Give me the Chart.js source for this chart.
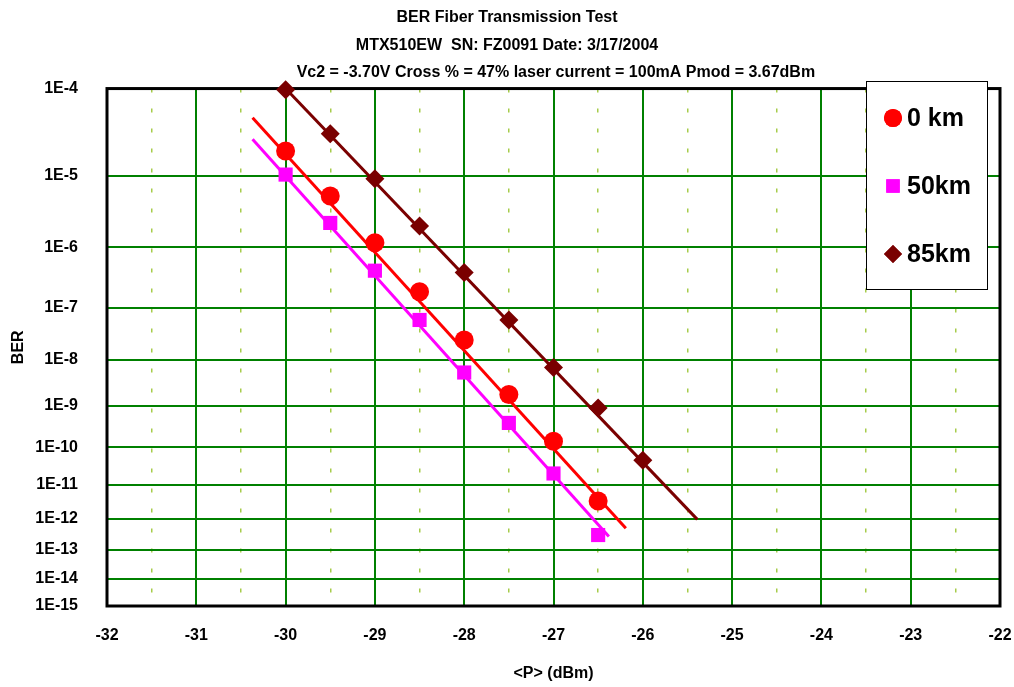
<!DOCTYPE html>
<html><head><meta charset="utf-8">
<script src="https://cdn.jsdelivr.net/npm/chart.js@4/dist/chart.umd.min.js"></script>
<style>html,body{margin:0;padding:0;background:#fff}#wrap{width:1014px;height:687px;position:relative}</style>
</head><body><div id="wrap"><canvas id="c"></canvas></div>
<script>
// ---- data ----
const titleLines = [
  'BER Fiber Transmission Test',
  'MTX510EW  SN: FZ0091 Date: 3/17/2004',
  '                      Vc2 = -3.70V Cross % = 47% laser current = 100mA Pmod = 3.67dBm'
];
const seriesLabels = ['0 km', '50km', '85km'];
const power = [-30, -29.5, -29, -28.5, -28, -27.5, -27, -26.5];
const power85 = [-30, -29.5, -29, -28.5, -28, -27.5, -27, -26.5, -26];
const ber0km = [2.03e-5, 5.44e-6, 1.17e-6, 1.90e-7, 2.50e-8, 1.83e-9, 1.42e-10, 3.39e-12];
const ber50km = [1.04e-5, 2.30e-6, 4.27e-7, 5.97e-8, 5.48e-9, 4.01e-10, 2.03e-11, 3.07e-13];
const ber85km = [9.7e-5, 3.25e-5, 9.23e-6, 2.08e-6, 3.98e-7, 5.97e-8, 6.98e-9, 9.0e-10, 4.6e-11];
const fit0kmP = [-30.37, -26.19];
const fit0kmBer = [4.9e-5, 5.0e-13];
const fit50kmP = [-30.37, -26.38];
const fit50kmBer = [2.8e-5, 2.75e-13];
const fit85kmP = [-30.0, -25.39];
const fit85kmBer = [1.0e-4, 9.5e-13];
const yTickExponents = [4, 5, 6, 7, 8, 9, 10, 11, 12, 13, 14, 15];
const xMin = -32, xMax = -22;
const xTitle = '<P> (dBm)';
const yTitle = 'BER';

// BER scale transform: log10(-log10(BER))
const berT = b => Math.log10(-Math.log10(b));
const pts = (xs, ys) => xs.map((x, i) => ({x: x, y: berT(ys[i])}));

const colors = ['#ff0000', '#ff00ff', '#7a0000'];
const styles = ['circle', 'rect', 'rectRot'];
const radii = [9.5, 10, 9.5];
const FONT = '"Liberation Sans", Arial, sans-serif';

function markerDs(i, xs, ys) {
  return {label: seriesLabels[i], data: pts(xs, ys), showLine: false,
    pointStyle: styles[i], pointRadius: radii[i], pointBackgroundColor: colors[i],
    pointBorderColor: colors[i], pointBorderWidth: 0, order: 0, clip: false};
}
function fitDs(i, xs, ys) {
  return {label: seriesLabels[i] + ' fit', data: pts(xs, ys), showLine: true,
    borderColor: colors[i], borderWidth: 3, pointRadius: 0, order: 1, clip: false};
}

const framePlugin = {
  id: 'frame',
  beforeDatasetsDraw(chart) {
    const {ctx, chartArea: a} = chart;
    ctx.save();
    ctx.strokeStyle = '#000';
    ctx.lineWidth = 3;
    ctx.strokeRect(a.left, a.top, a.right - a.left, a.bottom - a.top);
    ctx.restore();
  }
};

const legendPlugin = {
  id: 'boxLegend',
  afterDraw(chart) {
    const ctx = chart.ctx;
    const bx = 866, by = 81, bw = 121, bh = 208;
    ctx.save();
    ctx.fillStyle = '#fff';
    ctx.fillRect(bx, by, bw, bh);
    ctx.strokeStyle = '#000';
    ctx.lineWidth = 1;
    ctx.strokeRect(bx + 0.5, by + 0.5, bw, bh);
    const rows = [118, 186, 254];
    [0, 1, 2].forEach(i => {
      const ds = chart.data.datasets[i];
      ctx.fillStyle = ds.pointBackgroundColor;
      ctx.beginPath();
      Chart.helpers.drawPoint(ctx, {pointStyle: ds.pointStyle, radius: ds.pointRadius * 0.95, borderWidth: 0, rotation: 0}, 893, rows[i]);
      ctx.fill();
      ctx.fillStyle = '#000';
      ctx.font = 'bold 25px ' + FONT;
      ctx.textAlign = 'left';
      ctx.textBaseline = 'middle';
      ctx.fillText(ds.label, 907, rows[i] + 1);
    });
    ctx.restore();
  }
};

new Chart(document.getElementById('c'), {
  type: 'scatter',
  data: {
    datasets: [
      markerDs(0, power, ber0km),
      markerDs(1, power, ber50km),
      markerDs(2, power85, ber85km),
      fitDs(0, fit0kmP, fit0kmBer),
      fitDs(1, fit50kmP, fit50kmBer),
      fitDs(2, fit85kmP, fit85kmBer)
    ]
  },
  options: {
    responsive: true, maintainAspectRatio: false, animation: false,
    layout: {padding: {left: 0, right: 0, top: 0, bottom: 0}},
    plugins: {
      legend: {display: false},
      tooltip: {enabled: false},
      title: {display: true, text: titleLines, color: '#000',
        font: {family: FONT, size: 16, weight: 'bold', lineHeight: 1.72},
        padding: {top: 4, bottom: 2}}
    },
    scales: {
      x: {
        type: 'linear', min: xMin, max: xMax,
        afterFit: s => { s.height = 81; s.paddingLeft = 0; s.paddingRight = 14; },
        ticks: {stepSize: 0.5, autoSkip: false, maxRotation: 0, color: '#000', padding: 20,
          font: {family: FONT, size: 16, weight: 'bold'},
          callback: v => Number.isInteger(v) ? String(v) : ''},
        grid: {drawTicks: false,
          color: c => (c.tick && !Number.isInteger(c.tick.value)) ? '#a6cc4a' : '#008000',
          lineWidth: c => (c.tick && !Number.isInteger(c.tick.value)) ? 1.5 : 2},
        border: {display: false,
          dash: c => (c.tick && !Number.isInteger(c.tick.value)) ? [4, 16] : []},
        title: {display: true, text: xTitle, color: '#000',
          font: {family: FONT, size: 16, weight: 'bold'}, padding: {top: 0, bottom: 4}}
      },
      y: {
        type: 'linear', reverse: true,
        min: berT(1e-4), max: berT(1e-15),
        afterFit: s => { s.width = 107; },
        afterBuildTicks: s => { s.ticks = yTickExponents.map(n => ({value: berT(Math.pow(10, -n))})); },
        ticks: {color: '#000', padding: 29, autoSkip: false,
          font: {family: FONT, size: 16, weight: 'bold'},
          callback: v => '1E-' + Math.round(Math.pow(10, v))},
        grid: {drawTicks: false, color: '#008000', lineWidth: 2},
        border: {display: false},
        title: {display: true, text: yTitle, color: '#000',
          font: {family: FONT, size: 16, weight: 'bold'}, padding: {top: 9, bottom: 0}}
      }
    }
  },
  plugins: [framePlugin, legendPlugin]
});
</script></body></html>
